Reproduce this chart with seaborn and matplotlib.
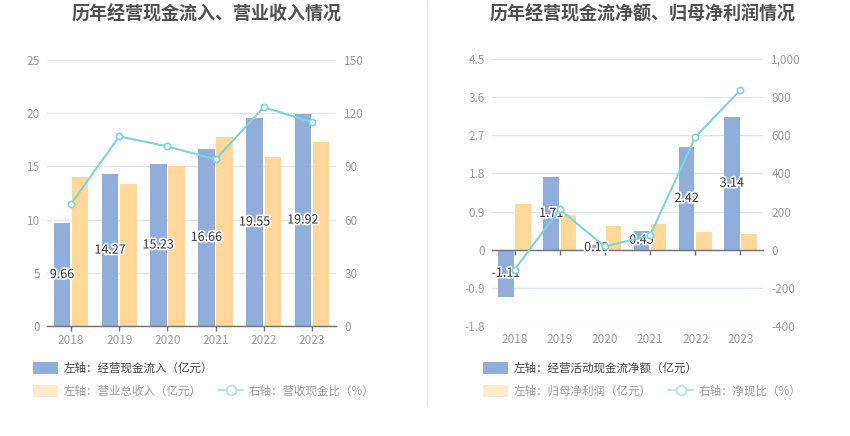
import numpy as np
import pandas as pd
import matplotlib
matplotlib.use('Agg')
import matplotlib.pyplot as plt
import seaborn as sns
from matplotlib.lines import Line2D
from matplotlib.patches import Patch
import matplotlib.patheffects as pe
from matplotlib.ticker import FuncFormatter, FixedLocator

# ---------------- data ----------------
years = ['2018', '2019', '2020', '2021', '2022', '2023']
cash_inflow = [9.66, 14.27, 15.23, 16.66, 19.55, 19.92]
revenue = [14.03, 13.35, 15.04, 17.73, 15.85, 17.32]
cash_ratio = [68.9, 106.9, 101.3, 94.0, 123.3, 115.0]

net_cash_flow = [-1.11, 1.71, 0.10, 0.45, 2.42, 3.14]
net_profit = [1.07, 0.81, 0.57, 0.60, 0.41, 0.375]
net_cash_ratio = [-104, 211, 17, 75, 590, 838]

left_title = '历年经营现金流入、营业收入情况'
right_title = '历年经营现金流净额、归母净利润情况'
left_names = ['左轴：经营现金流入（亿元）', '左轴：营业总收入（亿元）', '右轴：营收现金比（%）']
right_names = ['左轴：经营活动现金流净额（亿元）', '左轴：归母净利润（亿元）', '右轴：净现比（%）']

left_yticks = [0, 5, 10, 15, 20, 25]
left_rticks = [0, 30, 60, 90, 120, 150]
right_yticks = [-1.8, -0.9, 0, 0.9, 1.8, 2.7, 3.6, 4.5]
right_rticks = [-400, -200, 0, 200, 400, 600, 800, 1000]

# ---------------- style ----------------
BLUE = '#8FAEDB'
ORANGE = '#FFD898'
TEAL = '#7FD4D6'
BLUE_L = BLUE
ORANGE_L = '#FFEBCB'
TEAL_L = '#B3E5E7'
AXIS = '#6E7079'
GRID = '#E0E6F1'
TICK = '#999999'

sns.set_theme(style='white')
plt.rcParams['font.family'] = ['Noto Sans CJK SC', 'DejaVu Sans']
plt.rcParams['axes.unicode_minus'] = False

W, H = 850, 436
fig = plt.figure(figsize=(W / 100, H / 100), dpi=100)


def rect(x0, x1, y0, y1):
    return [x0 / W, 1 - y1 / H, (x1 - x0) / W, (y1 - y0) / H]


def fmt_num(v, pos=None):
    v = round(v, 2)
    if abs(v) >= 1000:
        return f'{v:,.0f}'
    return f'{v:g}'


def panel(ax, bar_a, bar_b, line, names, yticks, rticks, label_pad_pt, zero_spine):
    df = pd.DataFrame({
        'year': years * 2,
        'value': list(bar_a) + list(bar_b),
        'series': [names[0]] * len(years) + [names[1]] * len(years),
    })
    sns.barplot(data=df, x='year', y='value', hue='series', palette=[BLUE, ORANGE],
                width=0.76, gap=0.1, ax=ax, legend=False, saturation=1,
                errorbar=None, linewidth=0)
    ax.set_ylim(yticks[0], yticks[-1])
    ax.yaxis.set_major_locator(FixedLocator(yticks))
    ax.yaxis.set_major_formatter(FuncFormatter(fmt_num))
    ax.set_axisbelow(True)
    ax.yaxis.grid(True, color=GRID, linewidth=1)
    ax.xaxis.grid(False)
    for s in ['top', 'right', 'left']:
        ax.spines[s].set_visible(False)
    ax.spines['bottom'].set_color(AXIS)
    ax.spines['bottom'].set_linewidth(1)
    if zero_spine:
        ax.spines['bottom'].set_position(('data', 0))
    ax.tick_params(axis='x', length=3.6, width=1, color=AXIS, labelcolor=TICK,
                   labelsize=8.5, pad=label_pad_pt, bottom=True, direction='out')
    ax.tick_params(axis='y', length=0, labelcolor=TICK, labelsize=8.5, pad=5)
    ax.set_xlabel('')
    ax.set_ylabel('')

    # value labels centred on the first-series bars
    for i, v in enumerate(bar_a):
        p = ax.patches[i]
        cx = p.get_x() + p.get_width() / 2
        ax.text(cx, v / 2, f'{v:.2f}', ha='center', va='center', fontsize=9,
                color='#333333', zorder=6,
                path_effects=[pe.withStroke(linewidth=2.5, foreground='white')])

    axr = ax.twinx()
    sns.pointplot(x=years, y=line, ax=axr, color=TEAL, markers='o', linestyles='-',
                  errorbar=None)
    for l in axr.lines:
        l.set_linewidth(1.5)
        l.set_markersize(4.5)
        l.set_markeredgewidth(1.2)
        l.set_markerfacecolor('white')
        l.set_markeredgecolor(TEAL)
        l.set_color(TEAL)
    axr.set_ylim(rticks[0], rticks[-1])
    axr.yaxis.set_major_locator(FixedLocator(rticks))
    axr.yaxis.set_major_formatter(FuncFormatter(fmt_num))
    axr.grid(False)
    for s in axr.spines.values():
        s.set_visible(False)
    axr.tick_params(axis='y', length=0, labelcolor=TICK, labelsize=8.5, pad=6)
    axr.set_ylabel('')
    axr.set_xlabel('')
    ax.set_xlim(-0.5, len(years) - 0.5)
    axr.set_xlim(-0.5, len(years) - 0.5)
    return axr


ax1 = fig.add_axes(rect(47, 336, 60, 326))
ax2 = fig.add_axes(rect(492, 763, 59, 326))
panel(ax1, cash_inflow, revenue, cash_ratio, left_names, left_yticks, left_rticks, 2.5, False)
panel(ax2, net_cash_flow, net_profit, net_cash_ratio, right_names, right_yticks, right_rticks, 56.5, True)

# titles
fig.text(207 / W, 1 - 14 / H, left_title, ha='center', va='center', fontsize=13,
         fontweight='bold', color='#505050')
fig.text(643 / W, 1 - 14 / H, right_title, ha='center', va='center', fontsize=13,
         fontweight='bold', color='#505050')

# divider
fig.add_artist(Line2D([427 / W, 427 / W], [1, 1 - 405 / H], color='#EBEBEB', lw=1))

# legends
FS = 8.3
fs_px = FS / 72 * 100


def legends(x0, names):
    h_a = Patch(facecolor=BLUE_L, edgecolor='none')
    h_b = Patch(facecolor=ORANGE_L, edgecolor='none')
    h_c = Line2D([], [], color=TEAL_L, lw=1.5, marker='o', markerfacecolor='white',
                 markeredgecolor=TEAL_L, markersize=7, markeredgewidth=1.3)
    common = dict(loc='center left', frameon=False, borderpad=0, borderaxespad=0,
                  handlelength=25 / fs_px, handleheight=14 / fs_px,
                  handletextpad=6 / fs_px, fontsize=FS)
    fig.legend([h_a], [names[0]], bbox_to_anchor=(x0 / W, 1 - 368 / H),
               labelcolor=['#444444'], **common)
    fig.legend([h_b, h_c], [names[1], names[2]], bbox_to_anchor=(x0 / W, 1 - 391.5 / H),
               ncol=2, columnspacing=1.4, labelcolor=['#9A9A9A', '#9A9A9A'], **common)


legends(33, left_names)
legends(483, right_names)

fig.savefig('out.png', dpi=100)
